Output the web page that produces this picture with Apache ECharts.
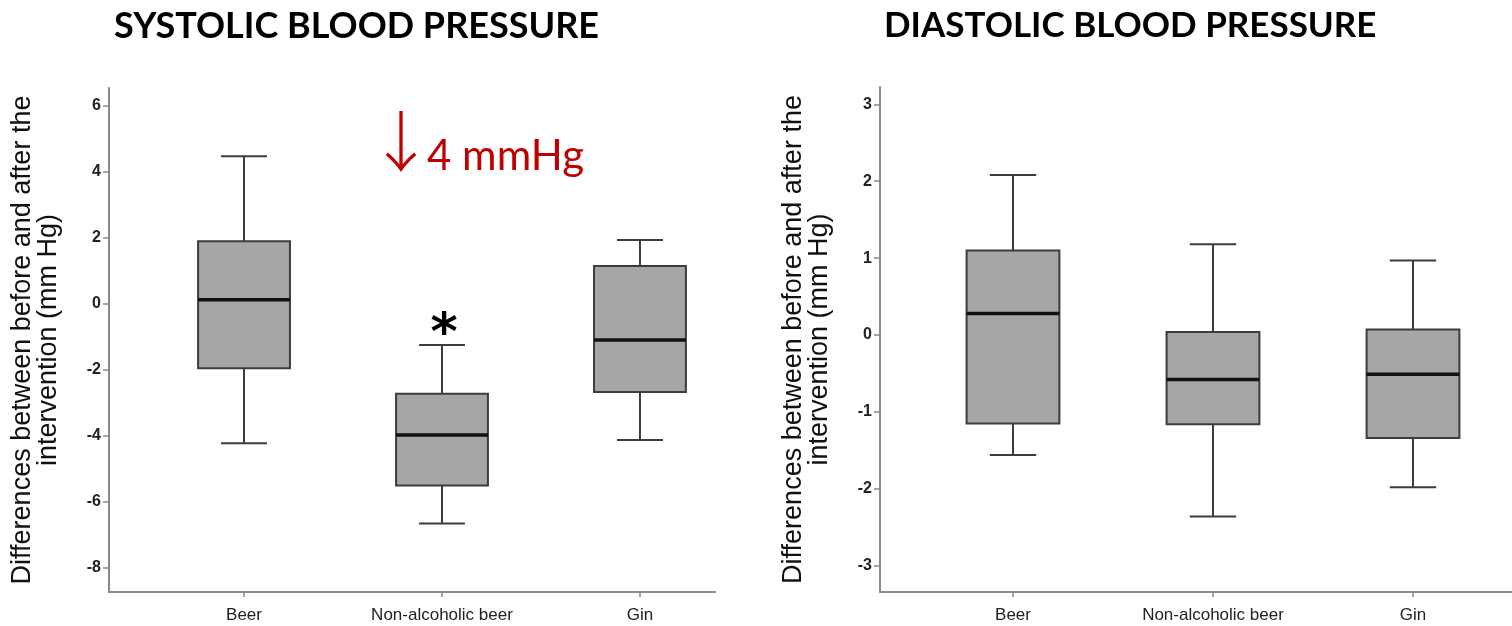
<!DOCTYPE html>
<html><head><meta charset="utf-8">
<script src="https://cdn.jsdelivr.net/npm/echarts@6/dist/echarts.min.js"></script>
<style>html,body{margin:0;padding:0;background:#fff}#c{width:1512px;height:626px}</style>
</head><body><div id="c"></div>
<script>
const categories = ['Beer', 'Non-alcoholic beer', 'Gin'];
// each row: [min, Q1, median, Q3, max]
const systolicBox = [
  [-4.22, -1.95, 0.13, 1.90, 4.48],
  [-6.65, -5.50, -3.97, -2.72, -1.24],
  [-4.12, -2.67, -1.09, 1.15, 1.94]
];
const diastolicBox = [
  [-1.56, -1.15, 0.28, 1.10, 2.08],
  [-2.36, -1.16, -0.58, 0.04, 1.18],
  [-1.98, -1.34, -0.51, 0.07, 0.97]
];
const systolicTicks = [-8, -6, -4, -2, 0, 2, 4, 6];
const diastolicTicks = [-3, -2, -1, 0, 1, 2, 3];
const titles = ['SYSTOLIC BLOOD PRESSURE', 'DIASTOLIC BLOOD PRESSURE'];
const yName = 'Differences between before and after the\nintervention (mm Hg)';
const annotation = '4 mmHg';
const arrowText = '\u2193';
const starText = '*';

const AXIS = '#8a8a8a';
const EDGE = '#3c3c3c';

function toData(rows) {
  return rows.map((r, i) => [i].concat(r));
}

function renderBox(params, api) {
  const x = api.value(0);
  const pMin = api.coord([x, api.value(1)]);
  const pQ1 = api.coord([x, api.value(2)]);
  const pMed = api.coord([x, api.value(3)]);
  const pQ3 = api.coord([x, api.value(4)]);
  const pMax = api.coord([x, api.value(5)]);
  const unit = api.size([1, 0])[0];
  const hb = unit * 0.232;
  const hc = unit * 0.116;
  const cx = pMed[0];
  const ls = { stroke: EDGE, lineWidth: 2 };
  return {
    type: 'group',
    children: [
      { type: 'line', shape: { x1: cx, y1: pMax[1], x2: cx, y2: pQ3[1] }, style: ls },
      { type: 'line', shape: { x1: cx, y1: pQ1[1], x2: cx, y2: pMin[1] }, style: ls },
      { type: 'line', shape: { x1: cx - hc, y1: pMax[1], x2: cx + hc, y2: pMax[1] }, style: ls },
      { type: 'line', shape: { x1: cx - hc, y1: pMin[1], x2: cx + hc, y2: pMin[1] }, style: ls },
      { type: 'rect', shape: { x: cx - hb, y: pQ3[1], width: hb * 2, height: pQ1[1] - pQ3[1] },
        style: { fill: '#a6a6a6', stroke: EDGE, lineWidth: 2 } },
      { type: 'line', shape: { x1: cx - hb, y1: pMed[1], x2: cx + hb, y2: pMed[1] },
        style: { stroke: '#111', lineWidth: 3.5 } }
    ]
  };
}

function xAxisOpt(idx, min, max) {
  return {
    gridIndex: idx, type: 'value', min: min, max: max,
    axisLine: { show: true, onZero: false, lineStyle: { color: AXIS, width: 2 } },
    axisTick: { show: true, customValues: [0, 1, 2], length: 5, lineStyle: { color: AXIS, width: 1.5 } },
    axisLabel: { customValues: [0, 1, 2], formatter: v => categories[Math.round(v)] || '',
      color: '#222', fontFamily: 'Liberation Sans', fontSize: 17, margin: 15 },
    splitLine: { show: false }
  };
}
function yAxisOpt(idx, min, max, ticks) {
  return {
    gridIndex: idx, type: 'value', min: min, max: max,
    name: yName, nameLocation: 'middle', nameGap: 47,
    nameTextStyle: { color: '#111', fontFamily: 'Liberation Sans', fontSize: 27, lineHeight: 26 },
    axisLine: { show: true, onZero: false, lineStyle: { color: AXIS, width: 2 } },
    axisTick: { show: true, customValues: ticks, length: 6, lineStyle: { color: AXIS, width: 1.5 } },
    axisLabel: { customValues: ticks, color: '#222', fontFamily: 'Liberation Sans', fontSize: 16, fontWeight: 'bold', margin: 8 },
    splitLine: { show: false }
  };
}

const chart = echarts.init(document.getElementById('c'), null, { renderer: 'canvas' });
chart.setOption({
  backgroundColor: '#fff',
  animation: false,
  grid: [
    { left: 109, top: 88, width: 606, height: 504 },
    { left: 880, top: 87, width: 632, height: 505 }
  ],
  xAxis: [xAxisOpt(0, -0.682, 2.379), xAxisOpt(1, -0.665, 2.495)],
  yAxis: [yAxisOpt(0, -8.727, 6.545, systolicTicks), yAxisOpt(1, -3.342, 3.225, diastolicTicks)],
  series: [
    { type: 'custom', xAxisIndex: 0, yAxisIndex: 0, data: toData(systolicBox),
      encode: { x: 0, y: [1, 2, 3, 4, 5] }, renderItem: renderBox },
    { type: 'custom', xAxisIndex: 1, yAxisIndex: 1, data: toData(diastolicBox),
      encode: { x: 0, y: [1, 2, 3, 4, 5] }, renderItem: renderBox }
  ],
  graphic: [
    { type: 'text', left: 114, top: 8, style: { text: titles[0], font: 'bold 36px Lato', fill: '#000' } },
    { type: 'text', left: 884, top: 8, style: { text: titles[1], font: 'bold 35px Lato', fill: '#000' } },
    { type: 'text', x: 401, y: 141, style: { text: arrowText, font: '300 66px "Noto Sans CJK JP"', fill: '#c00000', align: 'center', verticalAlign: 'middle' } },
    { type: 'text', left: 427, top: 135, style: { text: annotation, font: '42px Lato', fill: '#c00000' } },
    { type: 'text', x: 444, y: 309, style: { text: starText, font: 'bold 52px "DejaVu Sans"', fill: '#000', align: 'center', verticalAlign: 'top' } }
  ]
});
</script>
</body></html>
